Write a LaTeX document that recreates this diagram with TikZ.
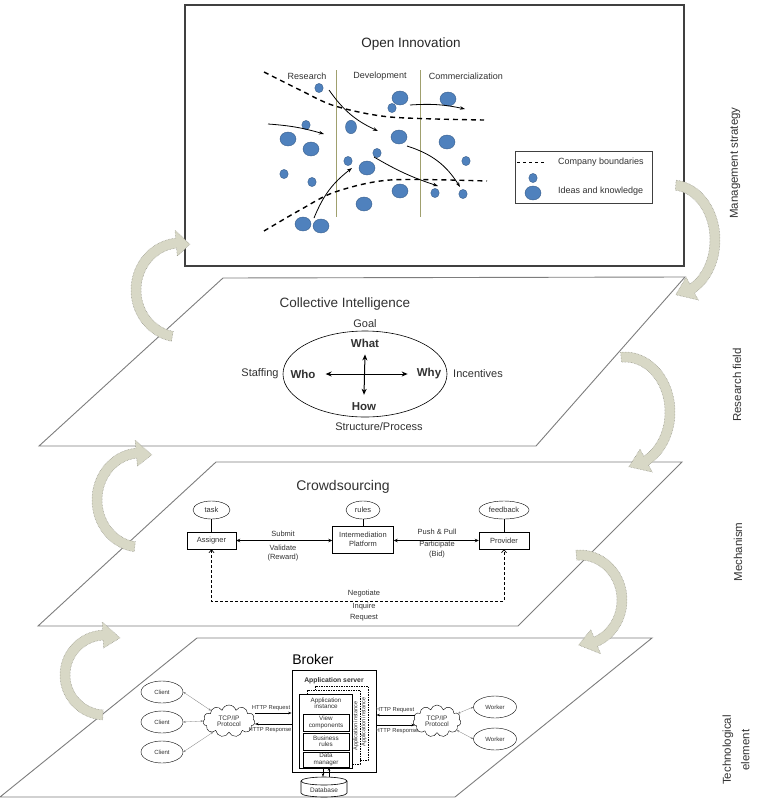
\documentclass[tikz,border=0pt]{standalone}
\usepackage{fontspec}
\setmainfont{Liberation Sans}
\usetikzlibrary{calc,arrows.meta,shapes.geometric,shapes.symbols}
\newcommand\myfs[1]{\fontsize{#1}{#1}\selectfont}
\definecolor{planegray}{RGB}{125,125,125}
\definecolor{bandfill}{RGB}{216,216,198}
\definecolor{bandedge}{RGB}{140,140,128}
\definecolor{blobblue}{RGB}{79,129,189}
\definecolor{blobedge}{RGB}{56,93,138}
\definecolor{phaseline}{RGB}{160,160,110}
\definecolor{textgray}{RGB}{50,50,50}
\newcommand\bentarrow[7]{%
 \pgfmathsetmacro\bxo{#3+5}\pgfmathsetmacro\byo{#4+5}%
 \pgfmathsetmacro\bxi{#3-5}\pgfmathsetmacro\byi{#4-5}%
 \pgfmathsetmacro\bxh{#3+13}\pgfmathsetmacro\byh{#4+13}%
 \pgfmathsetmacro\bxk{#3-13}\pgfmathsetmacro\byk{#4-13}%
 \pgfmathsetmacro\baa{-(#5)}\pgfmathsetmacro\bab{-(#6)}\pgfmathsetmacro\bat{-(#7)}%
 \filldraw[band] plot[domain=\baa:\bab,samples=40] ({#1+\bxo*cos(\x)},{#2+\byo*sin(\x)})
   -- ({#1+\bxh*cos(\bab)},{#2+\byh*sin(\bab)})
   -- ({#1+#3*cos(\bat)},{#2+#4*sin(\bat)})
   -- ({#1+\bxk*cos(\bab)},{#2+\byk*sin(\bab)})
   -- plot[domain=\bab:\baa,samples=40] ({#1+\bxi*cos(\x)},{#2+\byi*sin(\x)}) -- cycle;}
\tikzset{
 plane/.style={draw=planegray, line width=0.9pt, fill=white},
 band/.style={fill=bandfill, draw=bandedge, densely dotted, line width=0.5pt},
 lbl/.style={inner sep=0pt, text=textgray},
 sidelbl/.style={inner sep=0pt, rotate=90, font=\myfs{11.5}, text=textgray, align=center},
 blob/.style={fill=blobblue, draw=blobedge, line width=0.4pt},
 oiarrow/.style={-{Stealth[length=5pt,width=3.5pt]}, line width=0.8pt},
 bdash/.style={dashed, dash pattern=on 5pt off 4pt, line width=1.4pt},
 cse/.style={draw, ellipse, inner sep=0pt, minimum height=18pt, font=\myfs{7.5}, text=textgray},
 csbox/.style={draw, rectangle, inner sep=0pt, font=\myfs{7.5}, text=textgray, align=center},
 csarrow/.style={{Stealth[length=4pt,width=3.5pt]}-{Stealth[length=4pt,width=3.5pt]}, line width=0.8pt},
 bel/.style={draw, ellipse, inner sep=0pt, minimum width=42pt, minimum height=22pt, font=\myfs{6}, text=textgray},
 bbox/.style={draw, rectangle, inner sep=0pt, fill=white, font=\myfs{6.3}, text=textgray, align=center, line width=0.8pt},
 tcp/.style={draw, cloud, cloud puffs=11, aspect=1.6, inner sep=0pt, minimum width=52pt, minimum height=32pt, font=\myfs{6.5}, align=center, text=textgray, fill=white},
 httparrow/.style={-{Stealth[length=3.5pt,width=2.5pt]}, line width=0.5pt},
 thinarrow/.style={{Stealth[length=2.5pt,width=2pt]}-{Stealth[length=2.5pt,width=2pt]}, line width=0.3pt, draw=gray},
}
\begin{document}
\begin{tikzpicture}[x=1pt,y=-1pt]
\useasboundingbox (0,0) rectangle (756,806);

% ---------- planes ----------
\draw[draw=black!75, line width=1.1pt, fill=white] (185,5) rectangle (684,266);
\draw[plane] (223,278) -- (685,277) -- (536,446) -- (39,446) -- cycle;
\draw[plane] (216,462) -- (682,462) -- (518,626) -- (38,626) -- cycle;
\draw[plane] (197,638) -- (652,638) -- (455,797) -- (0,797) -- cycle;

% ---------- Open Innovation ----------
\node[lbl, font=\myfs{13.5}, text=black!85] (oititle) at (411,44) {Open Innovation};
\node[lbl, font=\myfs{9}] (res) at (307,76) {Research};
\node[lbl, font=\myfs{9}] (dev) at (380,76) {Development};
\node[lbl, font=\myfs{9}] (com) at (466,76) {Commercialization};
\draw[phaseline, line width=1pt] (336,70) -- (336,217);
\draw[phaseline, line width=1pt] (420,70) -- (420,217);
\draw[bdash] plot[smooth] coordinates {(264,72) (300,90) (335,106) (390,117) (484,120)};
\draw[bdash] plot[smooth] coordinates {(264,231) (300,210) (335,192) (390,180) (487,181)};
% blobs
\foreach \bx/\by in {319/88, 392/108, 306/125, 377/153, 348/161, 466/161, 284/174, 312/182, 435/193, 463/194}
  \draw[blob] (\bx,\by) ellipse [x radius=4.2, y radius=4.6];
\foreach \bx/\by in {400/98, 448/99, 288/139, 311/149, 399/137, 447/142, 367/168, 400/191, 364/204, 303/224, 321/226}
  \draw[blob] (\bx,\by) ellipse [x radius=8, y radius=7];
\draw[blob] (351,127) ellipse [x radius=5.5, y radius=6.7];
% arrows
\coordinate (a1s) at (329,90);  \coordinate (a1e) at (378,131);
\coordinate (a2s) at (410,105); \coordinate (a2e) at (465,109);
\coordinate (a3s) at (268,124); \coordinate (a3e) at (324,134);
\coordinate (a4s) at (407,146); \coordinate (a4e) at (460,187);
\coordinate (a5s) at (374,157); \coordinate (a5e) at (438,186);
\coordinate (a6s) at (314,218); \coordinate (a6e) at (352,168);
\draw[oiarrow] (a1s) to[bend right=15] (a1e);
\draw[oiarrow] (a2s) to[bend left=8] (a2e);
\draw[oiarrow] (a3s) to[bend left=6] (a3e);
\draw[oiarrow] (a4s) to[bend left=20] (a4e);
\draw[oiarrow] (a5s) to[bend right=6] (a5e);
\draw[oiarrow] (a6s) to[bend left=15] (a6e);
% legend
\draw[black!75, line width=0.9pt] (515,151) rectangle (652,203);
\draw[dashed, dash pattern=on 3pt off 3pt, line width=0.9pt] (517,162) -- (546,162);
\node[lbl, font=\myfs{9}, anchor=west] (lg1) at (558,162) {Company boundaries};
\draw[blob] (533,178) ellipse [x radius=4.2, y radius=4.6];
\draw[blob] (533,193) ellipse [x radius=8, y radius=7];
\node[lbl, font=\myfs{9}, anchor=west] (lg2) at (558,191) {Ideas and knowledge};

% ---------- Collective Intelligence ----------
\node[lbl, font=\myfs{13.5}] (cititle) at (345,304) {Collective Intelligence};
\node[draw, ellipse, minimum width=164pt, minimum height=86pt, line width=0.6pt] (ciell) at (365,374) {};
\node[lbl, font=\myfs{11}] (goal) at (365,324) {Goal};
\node[lbl, font=\bfseries\myfs{11.5}] (what) at (365,343) {What};
\node[lbl, font=\bfseries\myfs{11.5}] (how) at (364,407) {How};
\node[lbl, font=\bfseries\myfs{11.5}] (who) at (303,374) {Who};
\node[lbl, font=\bfseries\myfs{11.5}] (why) at (429,374) {Why};
\node[lbl, font=\myfs{11}] (staff) at (260,374) {Staffing};
\node[lbl, font=\myfs{11}] (incent) at (478,374) {Incentives};
\node[lbl, font=\myfs{11}] (struct) at (379,427) {Structure/Process};
\draw[{Stealth[length=6pt,width=5pt]}-{Stealth[length=6pt,width=5pt]}, line width=1pt] ([xshift=10pt]who.east) -- ([xshift=-9pt]why.west);
\draw[{Stealth[length=6pt,width=5pt]}-{Stealth[length=6pt,width=5pt]}, line width=1pt] ([yshift=-7pt]what.south) -- ([yshift=8pt]how.north);

% ---------- Crowdsourcing ----------
\node[lbl, font=\myfs{14}] (cstitle) at (343,487) {Crowdsourcing};
\node[cse, minimum width=37pt] (task) at (211.5,510) {task};
\node[cse, minimum width=34pt] (rules) at (363,510) {rules};
\node[cse, minimum width=50pt] (fb) at (504,510) {feedback};
\node[csbox, minimum width=49pt, minimum height=17pt] (asg) at (211.5,540.5) {Assigner};
\node[csbox, minimum width=61pt, minimum height=27pt] (ip) at (363,539.5) {Intermediation\\[1pt]Platform};
\node[csbox, minimum width=50pt, minimum height=17pt] (prov) at (504,540.5) {Provider};
\draw (task) -- (asg);
\draw (rules) -- (ip);
\draw (fb) -- (prov);
\draw[csarrow] (asg.east) -- (asg.east -| ip.west);
\draw[csarrow] (prov.west -| ip.east) -- (prov.west);
\draw[dashed, dash pattern=on 3pt off 2pt, line width=0.7pt, {Straight Barb[length=3pt,width=5pt]}-{Straight Barb[length=3pt,width=5pt]}] (asg.south) -- ++(0,52) -| (prov.south);
\node[lbl, font=\myfs{7.5}] (l1) at (283,534) {Submit};
\node[lbl, font=\myfs{7.5}] (l2) at (283,548) {Validate};
\node[lbl, font=\myfs{7.5}] (l3) at (283,558) {(Reward)};
\node[lbl, font=\myfs{7.5}] (l4) at (437,532) {Push \& Pull};
\node[lbl, font=\myfs{7.5}] (l5) at (437,545) {Participate};
\node[lbl, font=\myfs{7.5}] (l6) at (437,555) {(Bid)};
\node[lbl, font=\myfs{7.5}] (l7) at (364,594) {Negotiate};
\node[lbl, font=\myfs{7.5}] (l8) at (364,607) {Inquire};
\node[lbl, font=\myfs{7.5}] (l9) at (364,618) {Request};

% ---------- Broker ----------
\node[lbl, font=\myfs{14}, text=black] (brtitle) at (313,659) {Broker};
\node[draw, rectangle, minimum width=84pt, minimum height=102pt, line width=0.8pt] (appsrv) at (334,721) {};
\node[lbl, font=\bfseries\myfs{6.8}] (appsrvl) at (334,681) {Application server};
\node[draw, dashed, dash pattern=on 1.5pt off 1pt, fill=white, minimum width=53pt, minimum height=74pt, inner sep=0pt] (inst3) at (341.5,723) {};
\node[draw, dashed, dash pattern=on 1.5pt off 1pt, fill=white, minimum width=53pt, minimum height=74pt, inner sep=0pt] (inst2) at (333.5,727) {};
\node[lbl, rotate=90, font=\myfs{5.5}] (inst3l) at (364,722) {Application instance};
\node[lbl, rotate=90, font=\myfs{5.5}] (inst2l) at (356,726) {Application instance};
\node[draw, fill=white, minimum width=53pt, minimum height=74pt, inner sep=0pt, line width=1pt] (inst) at (325.5,731) {};
\node[lbl, font=\myfs{6.3}, align=center] (instl) at (326,703.5) {Application\\instance};
\node[bbox, minimum width=46pt, minimum height=17pt] (vc) at (326,722.5) {View\\components};
\node[bbox, minimum width=46pt, minimum height=17pt] (br) at (326,741.5) {Business\\rules};
\node[bbox, minimum width=46pt, minimum height=15pt] (dm) at (326,759.5) {Data\\manager};
\node[inner sep=0pt, minimum width=46pt, minimum height=20pt] (db) at (324,787) {};
\draw[fill=white, line width=0.6pt] (301,781) -- (301,793) arc[start angle=180, end angle=0, x radius=23, y radius=4] -- (347,781);
\draw[fill=white, line width=0.6pt] (324,781) ellipse [x radius=23, y radius=4];
\node[lbl, font=\myfs{6.5}] (dbl) at (324,790) {Database};
\draw[httparrow] ([xshift=-3pt]dm.south) -- ([xshift=-3pt]dm.south |- db.north);
\draw[httparrow] ([xshift=3pt]dm.south |- db.north) -- ([xshift=3pt]dm.south);

\node[bel] (c1) at (162,692) {Client};
\node[bel] (c2) at (162,722) {Client};
\node[bel] (c3) at (162,752) {Client};
\node[tcp] (lcl) at (229,721) {TCP/IP\\Protocol};
\draw[thinarrow] (c1.east) -- (lcl.150);
\draw[thinarrow] (c2.east) -- (lcl.west);
\draw[thinarrow] (c3.east) -- (lcl.215);
\coordinate (lq) at (255,713);
\coordinate (lr) at (255,724);
\draw[httparrow] (lq) -- (lq -| appsrv.west);
\draw[httparrow] (lr -| appsrv.west) -- (lr);
\node[lbl, font=\myfs{5.8}] (lql) at (271,708) {HTTP Request};
\node[lbl, font=\myfs{5.8}] (lrl) at (270,730) {HTTP Response};

\node[tcp, minimum width=48pt] (rcl) at (437,721) {TCP/IP\\Protocol};
\node[bel, minimum width=43pt] (w1) at (495,707) {Worker};
\node[bel, minimum width=43pt] (w2) at (495,739) {Worker};
\draw[thinarrow] (rcl.20) -- (w1.west);
\draw[thinarrow] (rcl.-25) -- (w2.west);
\coordinate (rq) at (415,715);
\coordinate (rr) at (415,725);
\draw[httparrow] (rq) -- (rq -| appsrv.east);
\draw[httparrow] (rr -| appsrv.east) -- (rr);
\node[lbl, font=\myfs{5.8}] (rql) at (395,710) {HTTP Request};
\node[lbl, font=\myfs{5.8}] (rrl) at (397,731) {HTTP Response};

% ---------- side labels ----------
\node[sidelbl] (s1) at (735,163) {Management strategy};
\node[sidelbl] (s2) at (737,385) {Research field};
\node[sidelbl] (s3) at (738,552) {Mechanism};
\node[sidelbl] (s4) at (736,750) {Technological\\[7pt]element};

% ---------- curved arrows ----------
\bentarrow{672}{240}{43}{55}{85}{-62}{-85}
\bentarrow{625}{412}{45}{55}{95}{-62}{-85}
\bentarrow{580}{600}{42}{45}{95}{-68}{-92}
\bentarrow{180}{290}{44}{47}{-100}{-265}{-283}
\bentarrow{140}{500}{43}{47}{-97}{-265}{-286}
\bentarrow{105}{675}{40}{40}{-93}{-267}{-292}
\end{tikzpicture}
\end{document}
